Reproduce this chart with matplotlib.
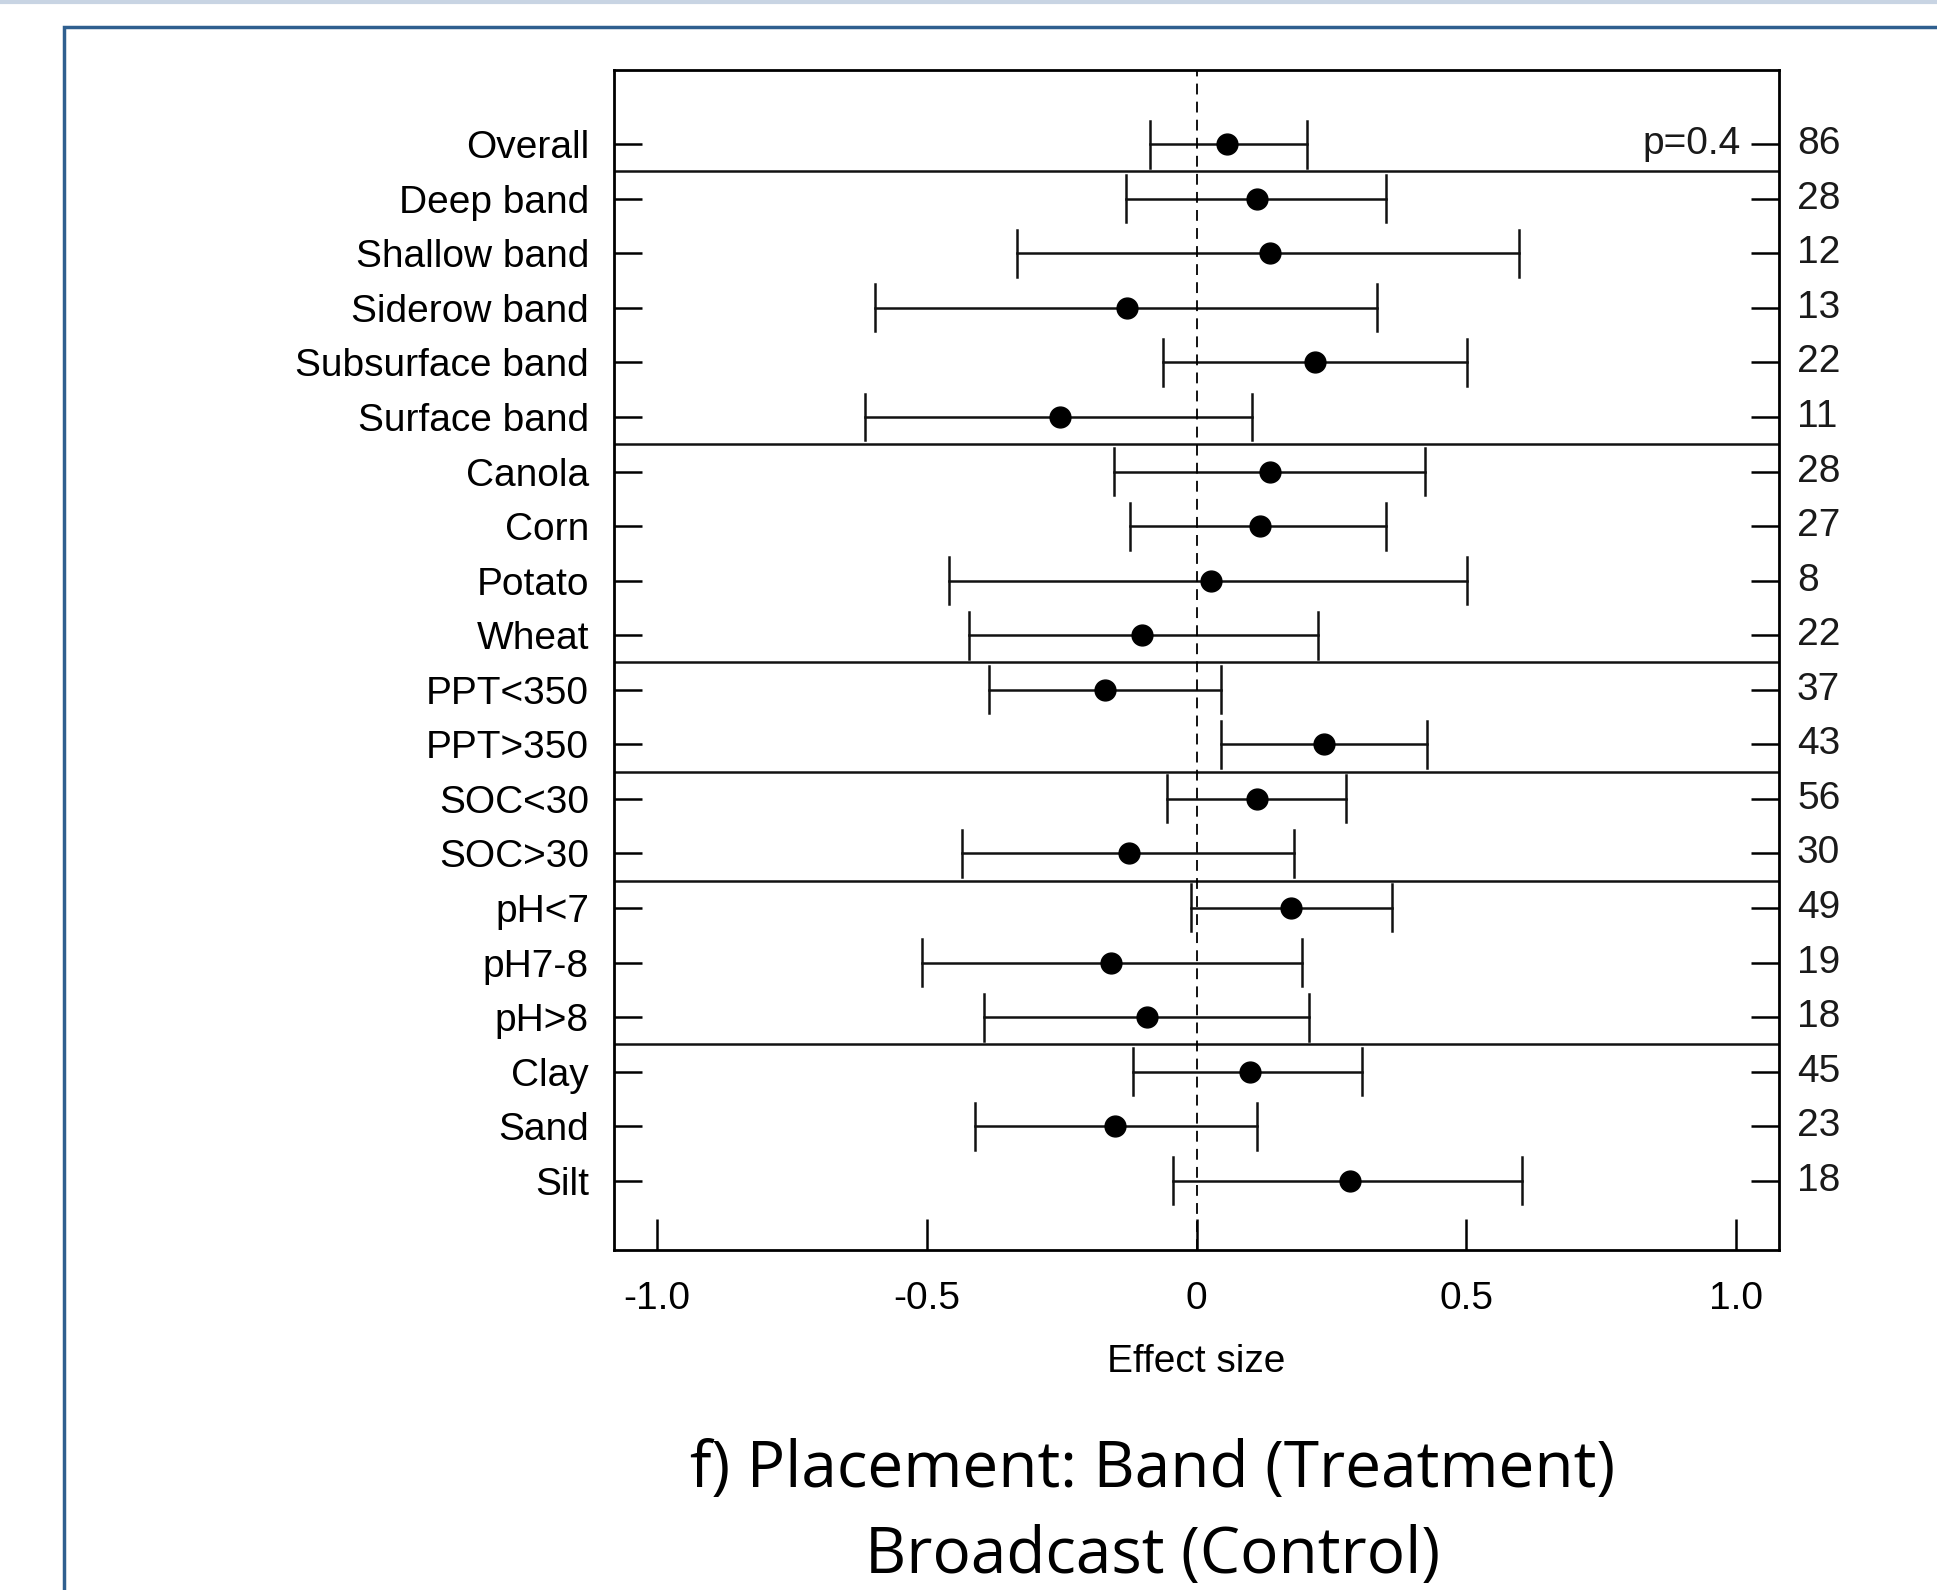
import matplotlib
matplotlib.use('Agg')
import matplotlib.pyplot as plt
from matplotlib.patches import Rectangle
from matplotlib.lines import Line2D

# forest plot data: category, lower CI, mean, upper CI, n
labels = ['Overall', 'Deep band', 'Shallow band', 'Siderow band', 'Subsurface band', 'Surface band',
          'Canola', 'Corn', 'Potato', 'Wheat', 'PPT<350', 'PPT>350', 'SOC<30', 'SOC>30',
          'pH<7', 'pH7-8', 'pH>8', 'Clay', 'Sand', 'Silt']
lower = [-0.087, -0.131, -0.332, -0.596, -0.062, -0.614, -0.153, -0.124, -0.458, -0.422,
         -0.385, 0.046, -0.055, -0.435, -0.011, -0.509, -0.394, -0.117, -0.410, -0.044]
mean = [0.057, 0.112, 0.137, -0.128, 0.220, -0.254, 0.137, 0.117, 0.027, -0.101,
        -0.170, 0.236, 0.112, -0.126, 0.176, -0.158, -0.092, 0.099, -0.151, 0.284]
upper = [0.204, 0.351, 0.598, 0.334, 0.502, 0.103, 0.424, 0.351, 0.502, 0.225,
         0.046, 0.428, 0.277, 0.181, 0.362, 0.195, 0.208, 0.307, 0.112, 0.603]
counts = [86, 28, 12, 13, 22, 11, 28, 27, 8, 22, 37, 43, 56, 30, 49, 19, 18, 45, 23, 18]
# index after which a group separator is drawn
group_ends = [0, 5, 9, 11, 13, 16]
xticks = [-1.0, -0.5, 0, 0.5, 1.0]
xticklabels = ['-1.0', '-0.5', '0', '0.5', '1.0']

plt.rcParams['font.family'] = ['Liberation Sans', 'DejaVu Sans']
plt.rcParams['text.color'] = '#1a1a1a'

fig = plt.figure(figsize=(19.37, 15.90), dpi=100)

# slide-style frame
fig.add_artist(Line2D([0, 1], [0.999, 0.999], color='#c8d4e3', lw=3, transform=fig.transFigure))
fig.add_artist(Rectangle((0.033, -0.01), 1.0, 0.993, transform=fig.transFigure,
                         fill=False, edgecolor='#2f5f8f', lw=2.5))

ax = fig.add_axes([614 / 1937, 1 - 1250 / 1590, (1779 - 614) / 1937, (1250 - 70) / 1590])

n = len(labels)
ypos = [n - i for i in range(n)]

for i in range(n):
    y = ypos[i]
    ax.plot([lower[i], upper[i]], [y, y], color='#111111', lw=1.8)
    ax.plot([lower[i], lower[i]], [y - 0.43, y + 0.43], color='#111111', lw=1.8)
    ax.plot([upper[i], upper[i]], [y - 0.43, y + 0.43], color='#111111', lw=1.8)
ax.plot(mean, ypos, 'o', color='black', markersize=15)

for g in group_ends:
    ax.axhline(ypos[g] - 0.5, color='#111111', lw=1.8)

ax.axvline(0, color='black', lw=1.3, linestyle=(0, (6, 4)))

ax.set_xlim(-1.08, 1.08)
ax.set_ylim(1 - 1.27, n + 1.36)

ax.set_xticks(xticks)
ax.set_xticklabels(xticklabels)
ax.set_yticks(ypos)
ax.set_yticklabels(labels)
ax.tick_params(axis='x', direction='in', length=22, width=1.8, labelsize=28, pad=22)
ax.tick_params(axis='y', direction='in', length=20, width=1.8, labelsize=28, pad=18,
               left=True, right=True, labelleft=True, labelright=False)

for s in ax.spines.values():
    s.set_linewidth(2.0)

for i in range(n):
    ax.text(1.0 + 18 / 1165, ypos[i], str(counts[i]), transform=ax.get_yaxis_transform(),
            ha='left', va='center', fontsize=28)

ax.text(1.0 - 38 / 1165, ypos[0], 'p=0.4', transform=ax.get_yaxis_transform(),
        ha='right', va='center', fontsize=28)

ax.set_xlabel('Effect size', fontsize=28, labelpad=20)

fig.text(0.595, 1 - 1470 / 1590, 'f) Placement: Band (Treatment)', ha='center', va='center',
         fontsize=46, color='black', family=['Liberation Sans Narrow', 'Open Sans', 'DejaVu Sans'])
fig.text(0.595, 1 - 1556 / 1590, 'Broadcast (Control)', ha='center', va='center',
         fontsize=46, color='black', family=['Liberation Sans Narrow', 'Open Sans', 'DejaVu Sans'])

fig.savefig('out.png', dpi=100)
